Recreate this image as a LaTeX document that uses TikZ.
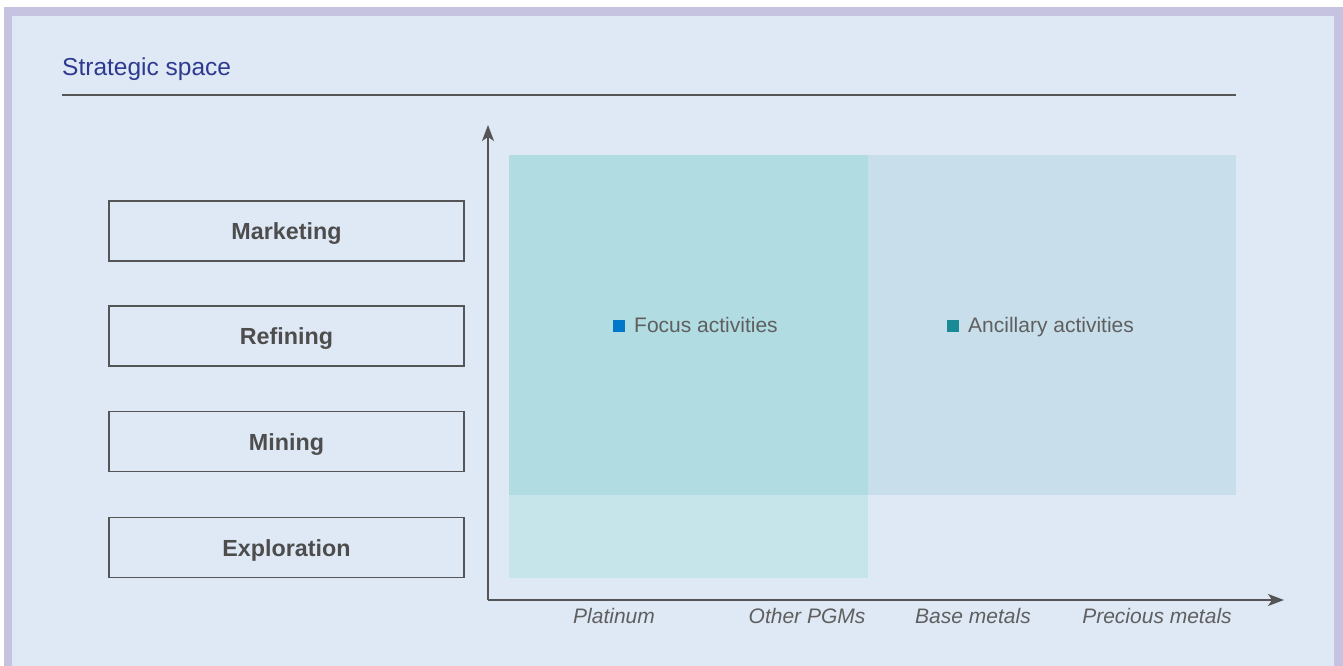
\documentclass[tikz,border=0pt]{standalone}
\usepackage{fontspec}
\setmainfont{Liberation Sans}
\usetikzlibrary{arrows.meta}
\definecolor{frame}{HTML}{C5C3E0}
\definecolor{bgin}{HTML}{DFE9F5}
\definecolor{titleblue}{HTML}{2E3A8F}
\definecolor{focusc}{HTML}{B0DCE2}
\definecolor{focuslow}{HTML}{C6E5EA}
\definecolor{ancc}{HTML}{C8DEEB}
\definecolor{sqblue}{HTML}{0077C8}
\definecolor{sqteal}{HTML}{1A8A96}
\definecolor{txtgray}{HTML}{4D4D4D}
\definecolor{linegray}{HTML}{555555}
\tikzset{
  x=1pt, y=-1pt,
  stagebox/.style={draw=linegray, line width=1.3pt, fill=bgin, minimum width=355pt, minimum height=60pt, inner sep=0pt, text height=17pt, text depth=0pt, text=txtgray, font=\fontsize{23.3}{26}\selectfont\bfseries},
  axislabel/.style={text=txtgray!90, font=\fontsize{21}{24}\selectfont\itshape, inner sep=0pt, anchor=base},
  legendtext/.style={text=txtgray!90, font=\fontsize{21}{25}\selectfont, inner sep=0pt, anchor=base west},
  axisline/.style={draw=linegray, line width=1.4pt, -{Stealth[length=16pt,width=12pt,inset=4pt]}},
}
\begin{document}
\begin{tikzpicture}
\useasboundingbox (0,0) rectangle (1343,666);
\fill[white] (0,0) rectangle (1343,666);
\fill[frame] (4,7) rectangle (1343,666);
\fill[bgin] (12,16) rectangle (1334,666);
% title
\node[anchor=base west, inner sep=0pt, text=titleblue, font=\fontsize{24.5}{28}\selectfont] (title) at (62,76) {Strategic space};
\draw[linegray, line width=1.3pt] (62,95) -- (1236,95);
% regions
\fill[focuslow] (509,495) rectangle (868,578);
\fill[focusc] (509,155) rectangle (868,495);
\fill[ancc] (868,155) rectangle (1236,495);
% boxes
\node[stagebox] (mkt) at (286.5,231) {Marketing};
\node[stagebox] (ref) at (286.5,336) {Refining};
\node[stagebox] (min) at (286.5,441.5) {Mining};
\node[stagebox] (exp) at (286.5,547.5) {Exploration};
% axes
\coordinate (o) at (488,600);
\coordinate (ytip) at (488,125);
\coordinate (xtip) at (1284,600);
\draw[axisline] (o) -- (ytip);
\draw[axisline] (o) -- (xtip);
% legend
\fill[sqblue] (613,320) rectangle (625,332);
\node[legendtext] (focus) at (634,332.5) {Focus activities};
\fill[sqteal] (947,320) rectangle (959,332);
\node[legendtext] (anc) at (968,332.5) {Ancillary activities};
% axis labels
\node[axislabel] (pt) at (614,623.5) {Platinum};
\node[axislabel] (pgm) at (807,623.5) {Other PGMs};
\node[axislabel] (base) at (973,623.5) {Base metals};
\node[axislabel] (prec) at (1157,623.5) {Precious metals};
\end{tikzpicture}
\end{document}
